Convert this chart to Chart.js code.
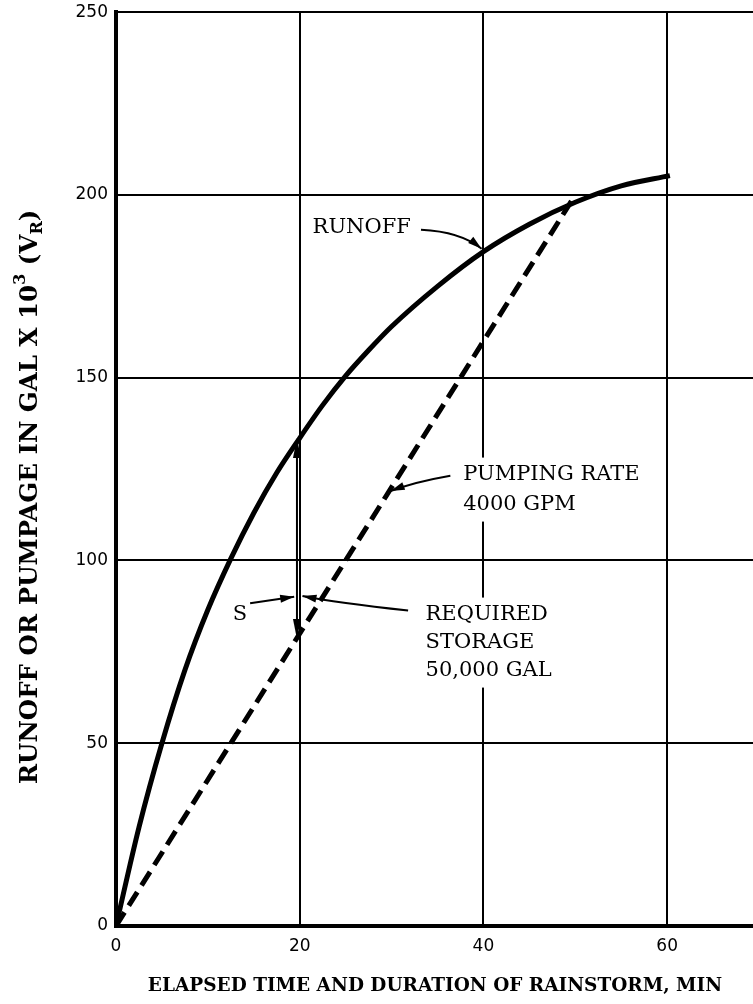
<!DOCTYPE html>
<html>
<head>
<meta charset="utf-8">
<script src="https://cdn.jsdelivr.net/npm/chart.js@4"></script>
<style>
  html, body { margin: 0; padding: 0; background: #fff; overflow: hidden; }
  #wrap { width: 780px; height: 1010px; position: relative; margin-top: -6px; }
</style>
</head>
<body>
<div id="wrap"><canvas id="chart"></canvas></div>
<script>
// runoff curve (min, gal x 10^3)
const runoffTime = [0, 2.5, 5, 7.5, 10, 12.5, 15, 17.5, 20, 22.5, 25, 27.5, 30, 35, 40, 45, 50, 55, 60.3];
const runoffGal = [0, 27, 50, 70, 86.5, 100.5, 113, 124, 133.5, 142.5, 150.5, 157.5, 164, 175, 184.5, 192, 198, 202.5, 205.3];

// pumping at 4000 gpm
const pumpTime = [0, 50];
const pumpGal = [0, 200];

const xTicks = [0, 20, 40, 60];
const yTicks = [0, 50, 100, 150, 200, 250];

// required storage at t = 20 min
const storageTime = 19.7;
const storageTop = 133.5;
const storageBottom = 78.5;

const serif = '"DejaVu Serif", serif';
const sans = '"DejaVu Sans", sans-serif';

const notes = [
  { lines: ["RUNOFF"], x: 21.4, y: 191, gap: 0 },
  { lines: ["PUMPING RATE", "4000 GPM"], x: 37.8, y: 123.5, gap: 30 },
  { lines: ["S"], x: 12.7, y: 85.2, gap: 0 },
  { lines: ["REQUIRED", "STORAGE", "50,000 GAL"], x: 33.7, y: 85.2, gap: 28 }
];

// pointer arrows: [from, control, to] in data units
const pointers = [
  [[33.2, 190.5], [37.5, 190], [39.8, 185.3]],
  [[36.4, 123.2], [32.5, 121.5], [29.9, 119]],
  [[14.6, 88.3], [17, 89.2], [19.4, 90.1]],
  [[31.8, 86.3], [24, 88.5], [20.3, 90.3]]
];

function head(ctx, fx, fy, tx, ty, len, wid) {
  const a = Math.atan2(ty - fy, tx - fx);
  ctx.beginPath();
  ctx.moveTo(tx, ty);
  ctx.lineTo(tx - len * Math.cos(a) + wid * Math.sin(a), ty - len * Math.sin(a) - wid * Math.cos(a));
  ctx.lineTo(tx - len * Math.cos(a) - wid * Math.sin(a), ty - len * Math.sin(a) + wid * Math.cos(a));
  ctx.closePath();
  ctx.fill();
}

const notesPlugin = {
  id: "notes",
  afterDraw(chart) {
    const ctx = chart.ctx;
    const xs = chart.scales.x, ys = chart.scales.y;
    ctx.save();
    ctx.fillStyle = "#000";
    ctx.strokeStyle = "#000";

    // labels with white backing (breaks the grid lines)
    ctx.font = "21px " + serif;
    ctx.textBaseline = "middle";
    ctx.textAlign = "left";
    notes.forEach(n => {
      const px = xs.getPixelForValue(n.x);
      const py = ys.getPixelForValue(n.y);
      const w = Math.max(...n.lines.map(l => ctx.measureText(l).width));
      ctx.fillStyle = "#fff";
      ctx.fillRect(px - 8, py - 17, w + 14, (n.lines.length - 1) * n.gap + 34);
      ctx.fillStyle = "#000";
      n.lines.forEach((l, i) => ctx.fillText(l, px, py + i * n.gap));
    });

    // pointer arrows
    ctx.lineWidth = 2;
    pointers.forEach(p => {
      const [a, c, b] = p.map(q => [xs.getPixelForValue(q[0]), ys.getPixelForValue(q[1])]);
      ctx.beginPath();
      ctx.moveTo(a[0], a[1]);
      ctx.quadraticCurveTo(c[0], c[1], b[0], b[1]);
      ctx.stroke();
      head(ctx, c[0], c[1], b[0], b[1], 14, 4);
    });

    // storage double arrow
    const sx = xs.getPixelForValue(storageTime);
    const st = ys.getPixelForValue(storageTop);
    const sb = ys.getPixelForValue(storageBottom);
    ctx.lineWidth = 2;
    ctx.beginPath();
    ctx.moveTo(sx, st + 6);
    ctx.lineTo(sx, sb - 6);
    ctx.stroke();
    head(ctx, sx, sb, sx, st, 20, 4);
    head(ctx, sx, st, sx, sb, 20, 4);

    // axis titles (canvas is shifted up 6px)
    ctx.textAlign = "center";
    ctx.font = "bold 18.5px " + serif;
    ctx.fillText("ELAPSED TIME AND DURATION OF RAINSTORM, MIN", 435, 992);

    ctx.translate(31, 503);
    ctx.rotate(-Math.PI / 2);
    const parts = [
      ["RUNOFF OR PUMPAGE IN GAL X 10", "bold 24.5px ", 0],
      ["3", "bold 16px ", -10],
      [" (V", "bold 24.5px ", 0],
      ["R", "bold 16px ", 7],
      [")", "bold 24.5px ", 0]
    ];
    let total = 0;
    parts.forEach(p => { ctx.font = p[1] + serif; p.push(ctx.measureText(p[0]).width); total += p[3]; });
    let cx = -total / 2;
    ctx.textAlign = "left";
    parts.forEach(p => {
      ctx.font = p[1] + serif;
      ctx.fillText(p[0], cx, p[2]);
      cx += p[3];
    });
    ctx.restore();
  }
};

new Chart(document.getElementById("chart"), {
  type: "line",
  data: {
    datasets: [
      {
        label: "Runoff",
        data: runoffTime.map((t, i) => ({ x: t, y: runoffGal[i] })),
        borderColor: "#000",
        borderWidth: 5,
        pointRadius: 0,
        cubicInterpolationMode: "monotone",
        fill: false
      },
      {
        label: "Pumping rate 4000 GPM",
        data: pumpTime.map((t, i) => ({ x: t, y: pumpGal[i] })),
        borderColor: "#000",
        borderWidth: 5,
        borderDash: [16, 8],
        pointRadius: 0,
        fill: false
      }
    ]
  },
  options: {
    responsive: true,
    maintainAspectRatio: false,
    animation: false,
    layout: { padding: { top: 5, right: 21, left: 0, bottom: 0 } },
    plugins: { legend: { display: false }, tooltip: { enabled: false } },
    scales: {
      x: {
        type: "linear",
        min: 0,
        max: 70,
        afterBuildTicks: s => { s.ticks = xTicks.map(v => ({ value: v })); },
        afterFit: s => { s.height = 78; },
        grid: { color: "#000", lineWidth: 2, drawTicks: false },
        border: { color: "#000", width: 4 },
        ticks: { color: "#000", font: { family: sans, size: 17 }, padding: 10, maxRotation: 0 }
      },
      y: {
        min: 0,
        max: 250,
        afterBuildTicks: s => { s.ticks = yTicks.map(v => ({ value: v })); },
        afterFit: s => { s.width = 116; },
        grid: { color: "#000", lineWidth: 2, drawTicks: false },
        border: { color: "#000", width: 4 },
        ticks: { color: "#000", font: { family: sans, size: 17 }, padding: 8 }
      }
    }
  },
  plugins: [notesPlugin]
});
</script>
</body>
</html>
